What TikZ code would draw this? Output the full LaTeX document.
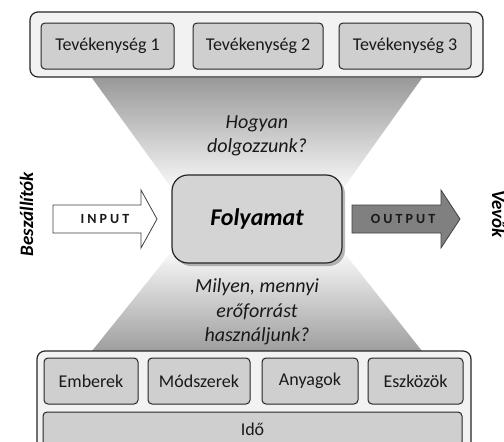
\documentclass[tikz,border=0pt]{standalone}
\usepackage{fontspec}
\setmainfont{Carlito}
\usetikzlibrary{shadows}
\begin{document}
\begin{tikzpicture}[x=1pt,y=-1pt,
  outerbox/.style={draw=black!85, line width=1.2pt, fill=black!5, rounded corners=8pt, inner sep=0pt},
  itembox/.style={draw=black!85, line width=1pt, fill=black!19, rounded corners=4pt, inner sep=0pt,
     font=\fontsize{18}{20}\selectfont, text=black!90},
  question/.style={font=\itshape\fontsize{20}{24.5}\selectfont, align=center, text=black!90},
  sidelabel/.style={font=\bfseries\itshape\fontsize{19}{22}\selectfont, anchor=base, text=black},
  arrowtext/.style={font=\bfseries\fontsize{14}{16}\selectfont\addfontfeature{LetterSpace=22}, text=black!90},
  blockarrow/.style={draw=black!75, line width=0.8pt, line join=miter}
]
\useasboundingbox (0,0) rectangle (504,442);
\fill[white] (0,0) rectangle (504,442);

% hourglass shading
\shade[top color=black!40, bottom color=black!2] (92,78) -- (422,78) -- (342,190) -- (173,190) -- cycle;
\shade[top color=black!2, bottom color=black!38] (173,250) -- (342,250) -- (422,351) -- (92,351) -- cycle;

% top group
\node[outerbox, minimum width=453pt, minimum height=65pt] (topgroup) at (256.5,44.5) {};
\node[itembox, minimum width=133pt, minimum height=46pt] (t1) at (107.5,46) {Tevékenység 1};
\node[itembox, minimum width=130pt, minimum height=46pt] (t2) at (258,46) {Tevékenység 2};
\node[itembox, minimum width=132pt, minimum height=46pt] (t3) at (405,46) {Tevékenység 3};

% bottom group
\node[outerbox, minimum width=434pt, minimum height=104pt] (botgroup) at (254,403) {};
\node[itembox, minimum width=94pt, minimum height=46pt] (r1) at (91,381) {Emberek};
\node[itembox, minimum width=102pt, minimum height=46pt] (r2) at (199,381) {Módszerek};
\node[itembox, minimum width=96pt, minimum height=46pt] (r3) at (310,381) {Anyagok};
\node[itembox, minimum width=95pt, minimum height=46pt] (r4) at (415.5,381) {Eszközök};
\node[itembox, minimum width=419pt, minimum height=34pt] (ido) at (252.5,429) {Idő};

% questions
\node[question] (q1) at (257,136) {Hogyan\\dolgozzunk?};
\node[question] (q2) at (257,312) {Milyen, mennyi\\erőforrást\\használjunk?};

% process
\node[draw=black!85, line width=1.2pt, fill=black!17, rounded corners=16pt,
      minimum width=170pt, minimum height=88pt, inner sep=0pt,
      drop shadow={shadow xshift=3pt, shadow yshift=-3pt, opacity=0.45, fill=black!60},
      font=\bfseries\itshape\fontsize{24}{28}\selectfont, text=black] (proc) at (257,219) {Folyamat};

% input arrow
\draw[blockarrow, fill=white] (53,205) -- (141,205) -- (141,190) -- (157,219) -- (141,248) -- (141,233) -- (53,233) -- cycle;
\node[arrowtext] (inp) at (105,219) {INPUT};

% output arrow
\draw[blockarrow, fill=black!50] (352,205) -- (441,205) -- (441,190) -- (460,219) -- (441,248) -- (441,233) -- (352,233) -- cycle;
\node[arrowtext] (outp) at (403,219) {OUTPUT};

% side labels
\node[sidelabel, rotate=90] (besz) at (33,214) {Beszállítók};
\node[sidelabel, rotate=-90] (vevo) at (492,214) {Vevők};
\end{tikzpicture}
\end{document}
